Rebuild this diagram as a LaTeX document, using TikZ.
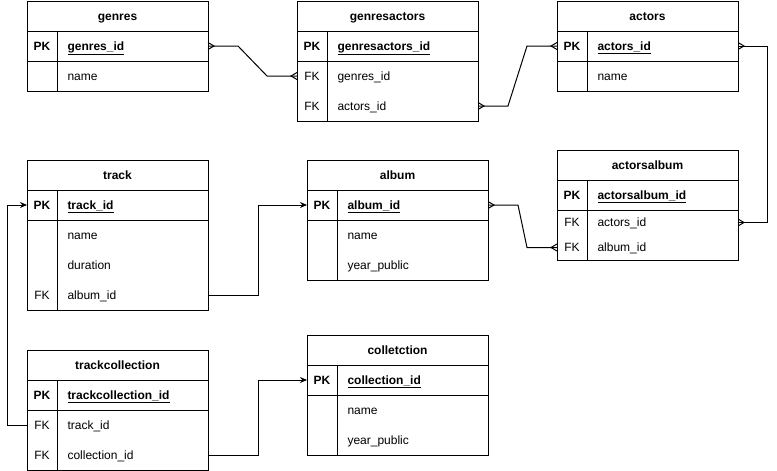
\documentclass[tikz,border=0pt]{standalone}
\usepackage{fontspec}
\setmainfont{Liberation Sans}
\usetikzlibrary{arrows.meta}
\usetikzlibrary{positioning,fit}

\tikzset{
  tab/.style={minimum width=181pt, inner sep=0pt, outer sep=0pt},
  tabhead/.style={tab, draw, minimum height=30pt, font=\fontsize{12}{14}\selectfont\bfseries, text height=8.6pt, text depth=0pt},
  keyrow/.style={tab, draw, minimum height=30pt},
  row/.style={tab, minimum height=30pt},
  body/.style={draw, inner sep=0pt, outer sep=0pt},
  key/.style={inner sep=0pt, text height=8.6pt, text depth=0pt},
  fld/.style={anchor=west, inner sep=0pt, text height=8.6pt, text depth=0pt},
  many/.pic={\draw (0,-3.5) -- (6,0) -- (0,3.5);},
  ref/.style={-{Stealth[length=7pt,width=6pt]}}
}

\begin{document}
\begin{tikzpicture}[x=1pt, y=-1pt, line width=1pt, font=\fontsize{12}{14}\selectfont]
  \useasboundingbox (0,0) rectangle (777,471);

  % genres
  \node[tabhead] (genres) at (117.5,16) {genres};
  \node[keyrow] (genres-pk) at (117.5,46) {};
  \node[row] (genres-name) at (117.5,76) {};
  \node[body, fit=(genres-name)] (genres-body) {};
  \draw ([xshift=30pt]genres-pk.north west) -- ([xshift=30pt]genres-body.south west);
  \node[key] at ([xshift=15pt]genres-pk.west) {\textbf{PK}};
  \node[fld] at ([xshift=40pt]genres-pk.west) {\textbf{\underline{genres\_id}}};
  \node[fld] at ([xshift=40pt]genres-name.west) {name};

  % genresactors
  \node[tabhead] (ga) at (387.5,16) {genresactors};
  \node[keyrow] (ga-pk) at (387.5,46) {};
  \node[row] (ga-genres) at (387.5,76) {};
  \node[row] (ga-actors) at (387.5,106) {};
  \node[body, fit=(ga-genres)(ga-actors)] (ga-body) {};
  \draw ([xshift=30pt]ga-pk.north west) -- ([xshift=30pt]ga-body.south west);
  \node[key] at ([xshift=15pt]ga-pk.west) {\textbf{PK}};
  \node[fld] at ([xshift=40pt]ga-pk.west) {\textbf{\underline{genresactors\_id}}};
  \node[key] at ([xshift=15pt]ga-genres.west) {FK};
  \node[fld] at ([xshift=40pt]ga-genres.west) {genres\_id};
  \node[key] at ([xshift=15pt]ga-actors.west) {FK};
  \node[fld] at ([xshift=40pt]ga-actors.west) {actors\_id};

  % actors
  \node[tabhead] (actors) at (647.5,16) {actors};
  \node[keyrow] (actors-pk) at (647.5,46) {};
  \node[row] (actors-name) at (647.5,76) {};
  \node[body, fit=(actors-name)] (actors-body) {};
  \draw ([xshift=30pt]actors-pk.north west) -- ([xshift=30pt]actors-body.south west);
  \node[key] at ([xshift=15pt]actors-pk.west) {\textbf{PK}};
  \node[fld] at ([xshift=40pt]actors-pk.west) {\textbf{\underline{actors\_id}}};
  \node[fld] at ([xshift=40pt]actors-name.west) {name};

  % track
  \node[tabhead] (track) at (117.5,175) {track};
  \node[keyrow] (track-pk) at (117.5,205) {};
  \node[row] (track-name) at (117.5,235) {};
  \node[row] (track-dur) at (117.5,265) {};
  \node[row] (track-album) at (117.5,295) {};
  \node[body, fit=(track-name)(track-album)] (track-body) {};
  \draw ([xshift=30pt]track-pk.north west) -- ([xshift=30pt]track-body.south west);
  \node[key] at ([xshift=15pt]track-pk.west) {\textbf{PK}};
  \node[fld] at ([xshift=40pt]track-pk.west) {\textbf{\underline{track\_id}}};
  \node[fld] at ([xshift=40pt]track-name.west) {name};
  \node[fld] at ([xshift=40pt]track-dur.west) {duration};
  \node[key] at ([xshift=15pt]track-album.west) {FK};
  \node[fld] at ([xshift=40pt]track-album.west) {album\_id};

  % album
  \node[tabhead] (album) at (397.5,175) {album};
  \node[keyrow] (album-pk) at (397.5,205) {};
  \node[row] (album-name) at (397.5,235) {};
  \node[row] (album-year) at (397.5,265) {};
  \node[body, fit=(album-name)(album-year)] (album-body) {};
  \draw ([xshift=30pt]album-pk.north west) -- ([xshift=30pt]album-body.south west);
  \node[key] at ([xshift=15pt]album-pk.west) {\textbf{PK}};
  \node[fld] at ([xshift=40pt]album-pk.west) {\textbf{\underline{album\_id}}};
  \node[fld] at ([xshift=40pt]album-name.west) {name};
  \node[fld] at ([xshift=40pt]album-year.west) {year\_public};

  % actorsalbum
  \node[tabhead] (aa) at (647.5,165) {actorsalbum};
  \node[keyrow] (aa-pk) at (647.5,195) {};
  \node[row, minimum height=25pt] (aa-actors) at (647.5,222.5) {};
  \node[row, minimum height=25pt] (aa-album) at (647.5,247.5) {};
  \node[body, fit=(aa-actors)(aa-album)] (aa-body) {};
  \draw ([xshift=30pt]aa-pk.north west) -- ([xshift=30pt]aa-body.south west);
  \node[key] at ([xshift=15pt]aa-pk.west) {\textbf{PK}};
  \node[fld] at ([xshift=40pt]aa-pk.west) {\textbf{\underline{actorsalbum\_id}}};
  \node[key] at ([xshift=15pt]aa-actors.west) {FK};
  \node[fld] at ([xshift=40pt]aa-actors.west) {actors\_id};
  \node[key] at ([xshift=15pt]aa-album.west) {FK};
  \node[fld] at ([xshift=40pt]aa-album.west) {album\_id};

  % trackcollection
  \node[tabhead] (tc) at (117.5,365) {trackcollection};
  \node[keyrow] (tc-pk) at (117.5,395) {};
  \node[row] (tc-track) at (117.5,425) {};
  \node[row] (tc-coll) at (117.5,455) {};
  \node[body, fit=(tc-track)(tc-coll)] (tc-body) {};
  \draw ([xshift=30pt]tc-pk.north west) -- ([xshift=30pt]tc-body.south west);
  \node[key] at ([xshift=15pt]tc-pk.west) {\textbf{PK}};
  \node[fld] at ([xshift=40pt]tc-pk.west) {\textbf{\underline{trackcollection\_id}}};
  \node[key] at ([xshift=15pt]tc-track.west) {FK};
  \node[fld] at ([xshift=40pt]tc-track.west) {track\_id};
  \node[key] at ([xshift=15pt]tc-coll.west) {FK};
  \node[fld] at ([xshift=40pt]tc-coll.west) {collection\_id};

  % colletction
  \node[tabhead] (coll) at (397.5,350) {colletction};
  \node[keyrow] (coll-pk) at (397.5,380) {};
  \node[row] (coll-name) at (397.5,410) {};
  \node[row] (coll-year) at (397.5,440) {};
  \node[body, fit=(coll-name)(coll-year)] (coll-body) {};
  \draw ([xshift=30pt]coll-pk.north west) -- ([xshift=30pt]coll-body.south west);
  \node[key] at ([xshift=15pt]coll-pk.west) {\textbf{PK}};
  \node[fld] at ([xshift=40pt]coll-pk.west) {\textbf{\underline{collection\_id}}};
  \node[fld] at ([xshift=40pt]coll-name.west) {name};
  \node[fld] at ([xshift=40pt]coll-year.west) {year\_public};

  % many-to-many links
  \draw (genres-pk.east) -- ++(30,0) -- ([xshift=-30pt]ga-genres.west) -- (ga-genres.west);
  \pic at (genres-pk.east) {many};
  \pic[rotate=180] at (ga-genres.west) {many};
  \draw (ga-actors.east) -- ++(30,0) -- ([xshift=-30pt]actors-pk.west) -- (actors-pk.west);
  \pic at (ga-actors.east) {many};
  \pic[rotate=180] at (actors-pk.west) {many};
  \draw (actors-pk.east) -- ++(29,0) |- (aa-actors.east);
  \pic at (actors-pk.east) {many};
  \pic at (aa-actors.east) {many};
  \draw (album-pk.east) -- ++(30,0) -- ([xshift=-30pt]aa-album.west) -- (aa-album.west);
  \pic at (album-pk.east) {many};
  \pic[rotate=180] at (aa-album.west) {many};

  % foreign keys
  \draw[ref] (track-album.east) -- ++(50,0) |- (album-pk.west);
  \draw[ref] (tc-track.west) -- ++(-20,0) |- (track-pk.west);
  \draw[ref] (tc-coll.east) -- ++(50,0) |- (coll-pk.west);
\end{tikzpicture}
\end{document}
